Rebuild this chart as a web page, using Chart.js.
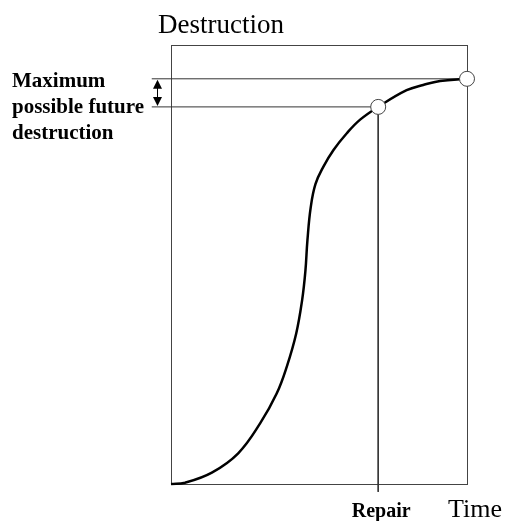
<!DOCTYPE html>
<html>
<head>
<meta charset="utf-8">
<script src="https://cdn.jsdelivr.net/npm/chart.js@4"></script>
<style>
  body { margin: 0; background: #fff; }
  #wrap { width: 505px; height: 521px; }
</style>
</head>
<body>
<div id="wrap"><canvas id="curveChart"></canvas></div>
<script>
// Values (time 0-100, destruction 0-100)
const curveTime = [0, 4.7, 13.8, 22.7, 30.1, 35.7, 39.1, 42.3, 44.3, 45.4, 46.1, 47.2, 48.8, 51.5, 54.9, 59.4, 63.9, 70, 79.6, 85.2, 90.9, 100];
const curveDestruction = [0, 0.3, 2.6, 7.0, 13.8, 20.6, 26.7, 34.3, 41.9, 48.5, 55.6, 63.0, 68.3, 72.3, 76.1, 79.9, 83.0, 85.9, 89.7, 90.9, 91.8, 92.3];
const repairTime = 70;
const repairLevel = 85.9;
const endTime = 100;
const maxLevel = 92.3;
const guideStart = -6.5;   // lines run a bit left of the box
const guideBottom = -1.8;  // repair line pokes under the box

const curvePoints = curveTime.map(function(t, i) { return { x: t, y: curveDestruction[i] }; });

// Box, labels and the double arrow
const decorations = {
  id: 'decorations',
  beforeDatasetsDraw: function(chart) {
    const ctx = chart.ctx;
    const a = chart.chartArea;
    ctx.save();
    ctx.strokeStyle = '#444';
    ctx.lineWidth = 1;
    ctx.strokeRect(Math.round(a.left) + 0.5, Math.round(a.top) + 0.5, Math.round(a.right - a.left), Math.round(a.bottom - a.top));
    ctx.restore();
  },
  afterDraw: function(chart) {
    const ctx = chart.ctx;
    const y = chart.scales.y;
    const x = chart.scales.x;
    ctx.save();
    ctx.fillStyle = '#000';

    // double arrow between the two levels
    const ax = 157.5;
    const y1 = y.getPixelForValue(maxLevel);
    const y2 = y.getPixelForValue(repairLevel);
    ctx.strokeStyle = '#000';
    ctx.lineWidth = 1;
    ctx.beginPath();
    ctx.moveTo(ax, y1 + 4);
    ctx.lineTo(ax, y2 - 4);
    ctx.stroke();
    ctx.beginPath();
    ctx.moveTo(ax, y1 + 1);
    ctx.lineTo(ax - 4.5, y1 + 10);
    ctx.lineTo(ax + 4.5, y1 + 10);
    ctx.closePath();
    ctx.fill();
    ctx.beginPath();
    ctx.moveTo(ax, y2 - 1);
    ctx.lineTo(ax - 4.5, y2 - 10);
    ctx.lineTo(ax + 4.5, y2 - 10);
    ctx.closePath();
    ctx.fill();

    ctx.textBaseline = 'alphabetic';
    ctx.font = '27px "Liberation Serif", serif';
    ctx.textAlign = 'center';
    ctx.fillText('Destruction', 221, 33);

    ctx.font = '26px "Liberation Serif", serif';
    ctx.textAlign = 'left';
    ctx.fillText('Time', 448, 517);

    ctx.font = 'bold 20px "Liberation Serif", serif';
    ctx.textAlign = 'center';
    ctx.fillText('Repair', x.getPixelForValue(repairTime) + 3, 517);

    ctx.font = 'bold 21px "Liberation Serif", serif';
    ctx.textAlign = 'left';
    ctx.fillText('Maximum', 12, 87);
    ctx.fillText('possible future', 12, 113);
    ctx.fillText('destruction', 12, 139);
    ctx.restore();
  }
};

const guideStyle = {
  type: 'line',
  borderColor: '#333',
  borderWidth: 1,
  pointRadius: 0,
  fill: false,
  tension: 0,
  clip: false,
  order: 3
};

new Chart(document.getElementById('curveChart').getContext('2d'), {
  type: 'line',
  data: {
    datasets: [
      Object.assign({ label: 'max level', data: [{ x: guideStart, y: maxLevel }, { x: endTime, y: maxLevel }] }, guideStyle),
      Object.assign({ label: 'repair level', data: [{ x: guideStart, y: repairLevel }, { x: repairTime, y: repairLevel }] }, guideStyle),
      Object.assign({ label: 'repair time', data: [{ x: repairTime, y: repairLevel }, { x: repairTime, y: guideBottom }] }, guideStyle),
      {
        label: 'Destruction',
        data: curvePoints,
        borderColor: '#000',
        borderWidth: 2.5,
        pointRadius: 0,
        fill: false,
        tension: 0.4,
        clip: false,
        order: 2
      },
      {
        type: 'scatter',
        label: 'markers',
        data: [{ x: repairTime, y: repairLevel }, { x: endTime, y: maxLevel }],
        pointStyle: 'circle',
        pointRadius: 7.5,
        backgroundColor: '#fff',
        borderColor: '#444',
        pointBackgroundColor: '#fff',
        pointBorderColor: '#444',
        pointBorderWidth: 1,
        clip: false,
        order: 1
      }
    ]
  },
  options: {
    responsive: true,
    maintainAspectRatio: false,
    animation: false,
    layout: {
      padding: { left: 171, right: 38, top: 45, bottom: 37 }
    },
    plugins: {
      legend: { display: false },
      tooltip: { enabled: false }
    },
    scales: {
      x: { type: 'linear', min: 0, max: 100, display: false },
      y: { type: 'linear', min: 0, max: 100, display: false }
    }
  },
  plugins: [decorations]
});
</script>
</body>
</html>
